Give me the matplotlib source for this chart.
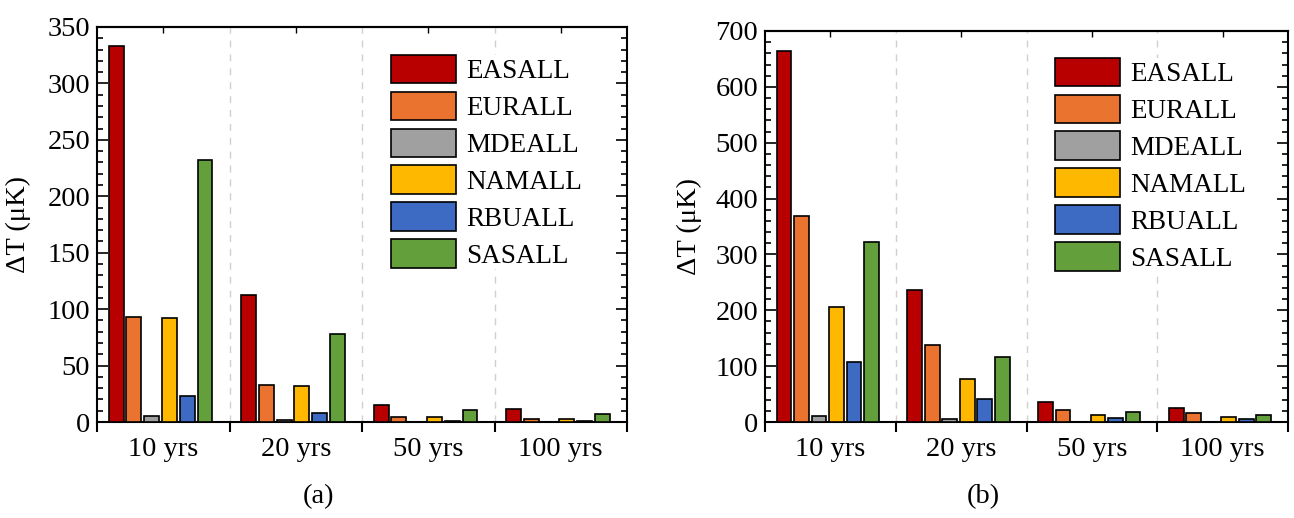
import matplotlib
matplotlib.use("Agg")
import matplotlib.pyplot as plt
import numpy as np

plt.rcParams['font.family'] = ['Liberation Serif', 'DejaVu Serif']
plt.rcParams['mathtext.fontset'] = 'stix'

periods = ["10 yrs", "20 yrs", "50 yrs", "100 yrs"]
regions = ["EASALL", "EURALL", "MDEALL", "NAMALL", "RBUALL", "SASALL"]
colors = ["#B80000", "#EB7330", "#A0A0A0", "#FFB800", "#3D6BC4", "#63A03C"]

# panel (a) values, one list per region, across periods
a_EASALL = [333, 112.5, 15.4, 11.2]
a_EURALL = [93, 33, 4.1, 3.0]
a_MDEALL = [5.6, 1.8, 0.3, 0.1]
a_NAMALL = [92.4, 32.2, 4.1, 3.0]
a_RBUALL = [23.3, 8.3, 0.6, 0.6]
a_SASALL = [232, 78.3, 10.6, 7.4]

# panel (b) values
b_EASALL = [664, 236, 35.8, 25]
b_EURALL = [368, 137.7, 21.4, 15.4]
b_MDEALL = [10, 4.7, 0.5, 0.5]
b_NAMALL = [206, 76.3, 11.9, 9.5]
b_RBUALL = [107, 41, 7.7, 5.9]
b_SASALL = [322, 115.6, 17.2, 12.5]

panel_a = [a_EASALL, a_EURALL, a_MDEALL, a_NAMALL, a_RBUALL, a_SASALL]
panel_b = [b_EASALL, b_EURALL, b_MDEALL, b_NAMALL, b_RBUALL, b_SASALL]

W, H = 1294, 518
fig = plt.figure(figsize=(W / 100, H / 100), dpi=100)

def px_rect(x0, x1, ytop, ybot):
    return [x0 / W, (H - ybot) / H, (x1 - x0) / W, (ybot - ytop) / H]

FS = 20.5
LFS = 19.5

def draw(ax, data, ymax, major, minor, leg_anchor, ylab_x):
    x = np.arange(len(periods))
    pitch = 0.134
    width = 0.113
    for i, (vals, name, c) in enumerate(zip(data, regions, colors)):
        ax.bar(x - 0.02 + (i - 2.5) * pitch, vals, width=width, color=c,
               edgecolor='black', linewidth=1.2, label=name, zorder=3)
    for b in [0.5, 1.5, 2.5]:
        ax.axvline(b, color='#D0D0D0', linestyle=(0, (5, 5)), linewidth=1.0, zorder=1)
    ax.set_xlim(-0.5, 3.5)
    ax.set_ylim(0, ymax)
    ax.set_yticks(np.arange(0, ymax + 1, major))
    ax.set_yticks(np.arange(0, ymax + 1, minor), minor=True)
    ax.tick_params(axis='y', which='both', direction='in', left=True, right=True,
                   labelsize=FS, width=1.2)
    ax.tick_params(axis='y', which='major', length=8, pad=5)
    ax.tick_params(axis='y', which='minor', length=4)
    ax.set_xticks(x)
    ax.set_xticklabels(periods)
    ax.set_xticks([-0.5, 0.5, 1.5, 2.5, 3.5], minor=True)
    ax.tick_params(axis='x', which='major', length=0, labelsize=FS, pad=11)
    ax.tick_params(axis='x', which='minor', direction='out', length=7, width=1.5,
                   bottom=True, top=False)
    sec = ax.secondary_xaxis('top')
    sec.set_xticks(x)
    sec.tick_params(axis='x', direction='in', length=4, width=1.0, labelsize=0)
    sec.set_xticklabels([])
    for s in ax.spines.values():
        s.set_linewidth(1.5)
    for s in sec.spines.values():
        s.set_linewidth(1.5)
    ax.set_ylabel('ΔT (μK)', fontsize=FS)
    ax.yaxis.set_label_coords(ylab_x, 0.5)
    leg = ax.legend(loc='upper left', bbox_to_anchor=leg_anchor, fontsize=LFS,
                    frameon=True, facecolor='white', edgecolor='none', framealpha=1,
                    fancybox=False, borderpad=0.0, borderaxespad=0.0,
                    handlelength=2.4, handleheight=1.24, labelspacing=0.28,
                    handletextpad=0.38)
    for h in leg.legend_handles:
        h.set_linewidth(1.2)
    leg.set_zorder(5)

ax1 = fig.add_axes(px_rect(97, 627, 27, 422))
draw(ax1, panel_a, 350, 50, 10, (0.5547, 0.93), -0.125)
ax2 = fig.add_axes(px_rect(765, 1288, 31, 422))
draw(ax2, panel_b, 700, 100, 20, (0.5545, 0.932), -0.12)

fig.text(318 / W, 1 - 497 / H, '(a)', fontsize=FS, ha='center', va='center')
fig.text(983 / W, 1 - 497 / H, '(b)', fontsize=FS, ha='center', va='center')

fig.savefig('out.png', dpi=100)
